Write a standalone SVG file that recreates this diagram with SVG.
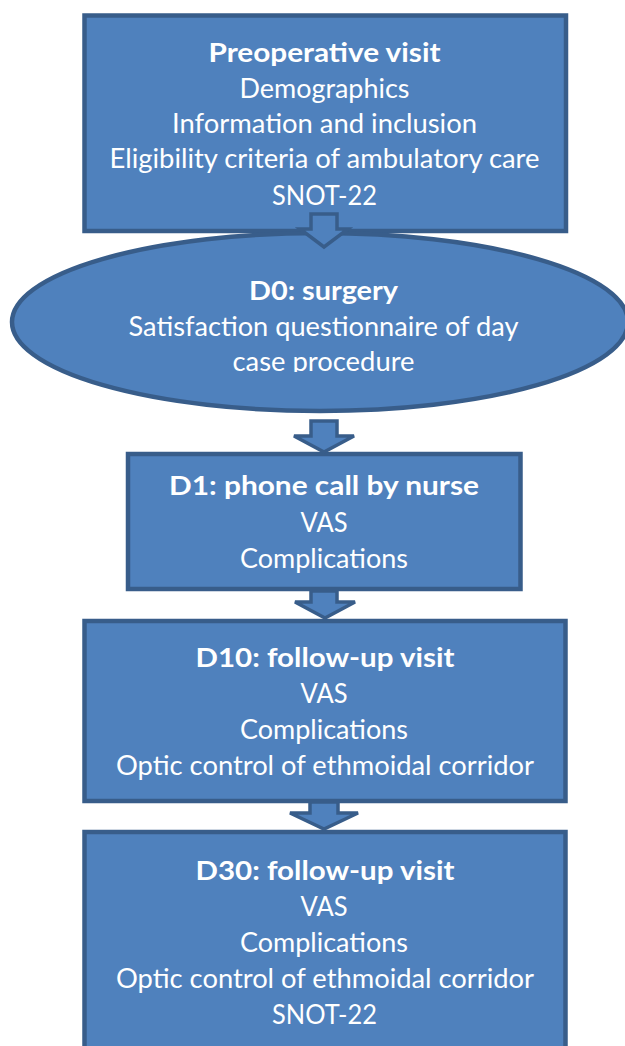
<svg xmlns="http://www.w3.org/2000/svg" width="625" height="1046" viewBox="0 0 625 1046">
<defs>
<style>
.shape{fill:#4F81BD;stroke:#385D8A;stroke-width:4.5}
.arrow{fill:#4F81BD;stroke:#385D8A;stroke-width:3.5;stroke-linejoin:miter}
text{font-family:Lato,"Open Sans","Liberation Sans",sans-serif;fill:#FFFFFF;font-size:27px;text-anchor:middle}
.b{font-weight:bold}
</style>
<clipPath id="clipD0"><rect x="0" y="260" width="625" height="112"/></clipPath>
</defs>
<rect width="625" height="1046" fill="#FFFFFF"/>
<g id="node-preop">
<rect class="shape" x="84.5" y="15.5" width="481.5" height="215.5"/>
<text class="b" x="324.5" y="62" textLength="232" lengthAdjust="spacingAndGlyphs">Preoperative visit</text>
<text x="324.5" y="98" textLength="170" lengthAdjust="spacingAndGlyphs">Demographics</text>
<text x="324.5" y="133" textLength="305" lengthAdjust="spacingAndGlyphs">Information and inclusion</text>
<text x="324.5" y="168" textLength="430" lengthAdjust="spacingAndGlyphs">Eligibility criteria of ambulatory care</text>
<text x="324.5" y="205" textLength="105" lengthAdjust="spacingAndGlyphs">SNOT-22</text>
</g>
<g id="node-d0">
<ellipse class="shape" cx="320" cy="322" rx="308" ry="89"/>
<g clip-path="url(#clipD0)">
<text class="b" x="323.5" y="300" textLength="149" lengthAdjust="spacingAndGlyphs">D0: surgery</text>
<text x="323.5" y="336" textLength="390" lengthAdjust="spacingAndGlyphs">Satisfaction questionnaire of day</text>
<text x="323.5" y="371" textLength="182" lengthAdjust="spacingAndGlyphs">case procedure</text>
</g>
</g>
<g id="node-d1">
<rect class="shape" x="128" y="454" width="392.5" height="135"/>
<text class="b" x="324" y="495" textLength="310" lengthAdjust="spacingAndGlyphs">D1: phone call by nurse</text>
<text x="324" y="532" textLength="47" lengthAdjust="spacingAndGlyphs">VAS</text>
<text x="324" y="568" textLength="168" lengthAdjust="spacingAndGlyphs">Complications</text>
</g>
<g id="node-d10">
<rect class="shape" x="84.5" y="621" width="481" height="180"/>
<text class="b" x="325" y="667" textLength="259" lengthAdjust="spacingAndGlyphs">D10: follow-up visit</text>
<text x="324" y="703" textLength="47" lengthAdjust="spacingAndGlyphs">VAS</text>
<text x="324" y="739" textLength="168" lengthAdjust="spacingAndGlyphs">Complications</text>
<text x="325" y="775" textLength="418" lengthAdjust="spacingAndGlyphs">Optic control of ethmoidal corridor</text>
</g>
<g id="node-d30">
<rect class="shape" x="84.5" y="832" width="481" height="230"/>
<text class="b" x="325" y="880" textLength="259" lengthAdjust="spacingAndGlyphs">D30: follow-up visit</text>
<text x="324" y="916" textLength="47" lengthAdjust="spacingAndGlyphs">VAS</text>
<text x="324" y="952" textLength="168" lengthAdjust="spacingAndGlyphs">Complications</text>
<text x="325" y="988" textLength="418" lengthAdjust="spacingAndGlyphs">Optic control of ethmoidal corridor</text>
<text x="324.5" y="1024" textLength="105" lengthAdjust="spacingAndGlyphs">SNOT-22</text>
</g>
<g id="connectors">
<polygon class="arrow" points="311,214 337,214 337,229 348,229 324,247 300,229 311,229"/>
<polygon class="arrow" points="311,421 337,421 337,436 354,436 324,452 294,436 311,436"/>
<polygon class="arrow" points="311,591 337,591 337,602 355,602 325,618 295,602 311,602"/>
<polygon class="arrow" points="310,802 338,802 338,813 358,813 324,829 290,813 310,813"/>
</g>
</svg>
